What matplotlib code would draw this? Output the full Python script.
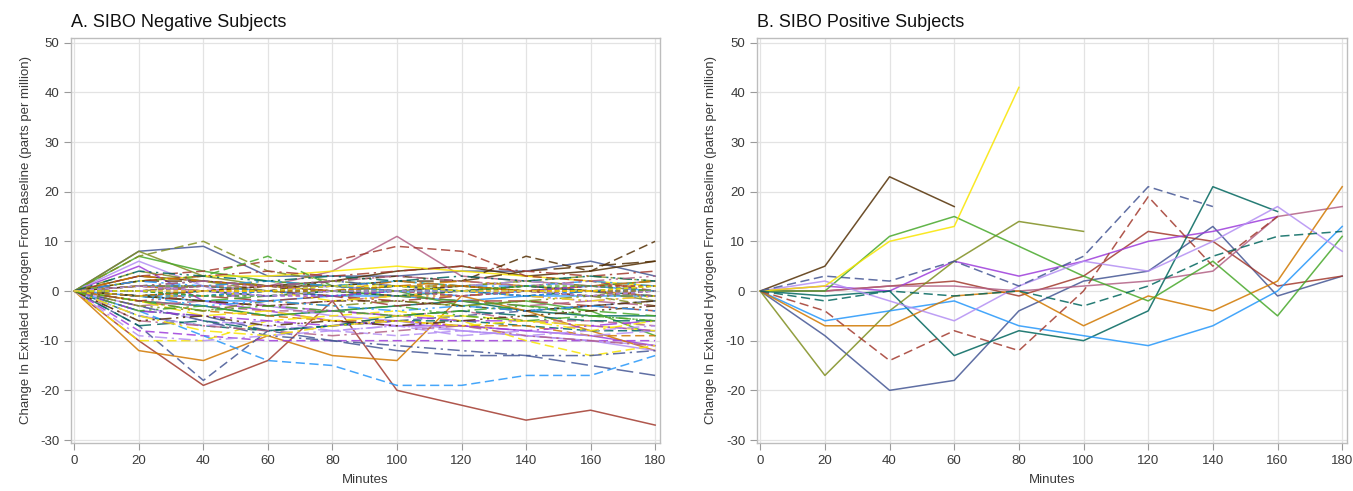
import matplotlib
matplotlib.use("Agg")
import matplotlib.pyplot as plt

minutes = [0, 20, 40, 60, 80, 100, 120, 140, 160, 180]

# SAS-like palette
colors = ["#445694", "#A23A2E", "#01665E", "#543005", "#9D3CDB", "#7F8E1F",
          "#2597FA", "#B26084", "#D17800", "#47A82A", "#B38EF3", "#F9E500"]

# ---------------- Panel A: SIBO negative (grouped by line pattern) --------
A_solid = [
    [0, 8, 9, 3, 3, 3, 4, 4, 6, 3],
    [0, -10, -19, -14, -2, -20, -23, -26, -24, -27],
    [0, -2, -3, -5, -4, -3, -2, -4, -5, -5],
    [0, 3, 2, 1, 2, 4, 5, 3, 4, 6],
    [0, 5, -2, -4, -6, -7, -7, -8, -9, -11],
    [0, 8, 3, 1, 0, -1, 0, 1, 0, -2],
    [0, -1, -2, -2, -1, -1, -2, -1, -1, -1],
    [0, 1, 0, 1, 4, 11, 3, 2, 1, 2],
    [0, -12, -14, -9, -13, -14, -1, -4, -8, -12],
    [0, 7, 4, 2, 1, 0, -3, -2, -4, -9],
    [0, 6, 1, -3, -5, -6, -8, -9, -10, -12],
    [0, 2, 3, 3, 4, 5, 4, 3, 2, 1],
]
A_dash = [
    [0, -7, -18, -8, -7, -6, -5, -4, -3, -2],
    [0, 3, 4, 6, 6, 9, 8, 3, 2, 0],
    [0, -5, -7, -8, -7, -6, -6, -7, -8, -8],
    [0, 1, 1, 0, 2, 3, 2, 7, 4, 10],
    [0, -8, -9, -10, -10, -10, -10, -10, -10, -10],
    [0, 7, 10, 4, 2, 1, 1, 0, -1, -3],
    [0, -4, -9, -14, -15, -19, -19, -17, -17, -13],
    [0, -2, -3, -4, -4, -5, -4, -6, -6, -7],
    [0, -2, -4, -5, -6, -6, -7, -7, -9, -9],
    [0, 2, 3, 7, 1, 2, 1, 0, 1, 2],
    [0, -3, -6, -7, -8, -9, -8, -9, -10, -11],
    [0, -10, -10, -6, -5, -4, -6, -10, -13, -11],
]
A_longdash = [
    [0, -4, -5, -8, -10, -12, -13, -13, -15, -17],
    [0, -1, -1, -2, -1, -3, -2, -2, -3, -4],
    [0, -7, -6, -8, -7, -5, -4, -5, -6, -6],
    [0, 2, 2, 1, 1, 2, 2, 4, 5, 6],
    [0, -1, -2, -3, -4, -5, -6, -6, -7, -6],
    [0, 4, 2, 0, -1, 0, 1, 2, 1, 0],
    [0, 1, 1, 0, -1, 0, -1, 0, 1, 0],
    [0, -3, -2, -3, -2, -1, -2, -3, -2, -3],
    [0, 1, 0, -1, 0, 1, 2, 1, 0, -1],
    [0, -1, -2, -1, 0, -1, -2, -3, -4, -5],
    [0, -5, -7, -6, -8, -7, -9, -8, -9, -8],
    [0, -2, -5, -4, -6, -5, -5, -6, -7, -8],
]
A_dashdot = [
    [0, -3, -6, -9, -10, -11, -12, -13, -13, -12],
    [0, 2, 3, 4, 3, 4, 5, 4, 3, 4],
    [0, -1, 0, -1, 0, 1, 0, -1, 0, -1],
    [0, -1, -2, -3, -2, -2, -3, -4, -3, -2],
    [0, -4, -5, -6, -7, -6, -7, -8, -7, -8],
    [0, 0, 1, 2, 1, 0, 1, 2, 3, 2],
    [0, 2, 1, 2, 1, 2, 1, 1, 2, 1],
    [0, -6, -7, -8, -9, -8, -7, -9, -10, -11],
    [0, 3, 2, 1, 0, 2, 1, 0, 1, 2],
    [0, -2, -4, -3, -4, -5, -4, -3, -5, -6],
    [0, -9, -10, -9, -8, -7, -8, -9, -8, -7],
    [0, -5, -8, -9, -7, -6, -7, -6, -8, -6],
]
A_dashdotdot = [
    [0, 1, 2, 1, 2, 1, 0, 1, 0, 1],
    [0, -2, -1, 0, -1, -2, -1, 0, -1, 0],
    [0, 4, 3, 2, 3, 2, 3, 2, 3, 2],
    [0, -6, -5, -7, -6, -7, -6, -5, -4, -3],
    [0, 0, -1, -1, 0, -1, 0, -1, -2, -1],
    [0, -3, -4, -2, -3, -2, -3, -2, -1, -1],
    [0, -1, -3, -2, -3, -4, -3, -4, -3, -4],
    [0, 1, 2, 1, 2, 3, 2, 1, 2, 3],
    [0, -1, 0, 1, 0, -1, -1, 0, 1, 1],
    [0, -4, -3, -5, -4, -3, -5, -6, -5, -6],
    [0, 0, 1, 0, 1, 0, 1, 2, 1, 0],
    [0, -1, -1, 0, -2, -1, 0, -1, -2, -1],
]
A_shortdash = [
    [0, 0, 1, 0, -1, 0, 0, -1, 0, 0],
    [0, 1, 0, 0, 1, 0, -1, 0, 1, 1],
    [0, 0, -1, 0, 0, -1, 0, 1, 0, 0],
    [0, -1, 0, 1, 0, 0, 1, 0, -1, 0],
    [0, 0, 0, -1, -1, 0, 0, 0, 1, 0],
    [0, 1, 1, 0, 0, 1, 0, 0, 0, 1],
    [0, -1, -1, 0, 1, 0, 0, -1, 0, 0],
    [0, 0, 1, 1, 0, 0, -1, 0, 0, -1],
    [0, -1, 0, 0, 0, 1, 1, 0, 0, 0],
    [0, 0, -1, -1, 0, 0, 0, 1, 1, 0],
    [0, 1, 0, -1, 0, 0, 0, 0, -1, 0],
    [0, 0, 0, 0, 1, 1, 0, 0, 0, 1],
]

# ---------------- Panel B: SIBO positive (None = missing) ------------------
B_slate = [0, -9, -20, -18, -4, 2, 4, 13, -1, 3]
B_red = [0, 0, 1, 2, -1, 3, 12, 10, 1, 3]
B_teal = [0, -1, 0, -13, -8, -10, -4, 21, 16, None]
B_brown = [0, 5, 23, 17, None, None, None, None, None, None]
B_purple = [0, 1, 0, 6, 3, 6, 10, 12, 15, None]
B_olive = [0, -17, -4, 6, 14, 12, None, None, None, None]
B_sky = [0, -6, -4, -2, -7, -9, -11, -7, 0, 13]
B_pink = [0, 0, 1, 1, 0, 1, 2, 4, 15, 17]
B_orange = [0, -7, -7, -1, 0, -7, -1, -4, 2, 21]
B_green = [0, 0, 11, 15, 9, 3, -2, 6, -5, 11]
B_lavender = [0, 2, -2, -6, 1, 6, 4, 10, 17, 8]
B_yellow = [0, 1, 10, 13, 41, None, None, None, None, None]
B_slate_dash = [0, 3, 2, 6, 1, 7, 21, 17, None, None]
B_red_dash = [0, -4, -14, -8, -12, 0, 19, 5, 15, None]
B_teal_dash = [0, -2, 0, -1, 0, -3, 1, 7, 11, 12]

styles = {
    "solid": "-",
    "dash": (0, (6, 3)),
    "shortdash": (0, (3, 2)),
    "longdash": (0, (11, 4)),
    "dashdot": (0, (8, 3, 1.5, 3)),
    "dashdotdot": (0, (8, 3, 1.5, 3, 1.5, 3)),
}

plt.rcParams["font.family"] = ["Liberation Sans", "DejaVu Sans"]
plt.rcParams["axes.unicode_minus"] = False

fig = plt.figure(figsize=(13.53, 4.91), dpi=100)
axA = fig.add_axes([0.0525, 0.0978, 0.4353, 0.8254])
axB = fig.add_axes([0.5595, 0.0978, 0.4361, 0.8254])


def style_axes(ax, title):
    ax.set_xlim(-1, 181.5)
    ax.set_ylim(-30.6, 51)
    ax.set_xticks(minutes)
    ax.set_yticks([-30, -20, -10, 0, 10, 20, 30, 40, 50])
    ax.grid(True, color="#e3e3e3", linewidth=0.9)
    ax.set_axisbelow(True)
    for s in ax.spines.values():
        s.set_color("#bdbdbd")
        s.set_linewidth(1.0)
    ax.tick_params(axis="both", colors="#9a9a9a", labelcolor="#3a3a3a",
                   labelsize=9.5, length=5, width=0.8)
    ax.set_xlabel("Minutes", fontsize=9.5, color="#3a3a3a", labelpad=5)
    ax.set_ylabel("Change In Exhaled Hydrogen From Baseline (parts per million)",
                  fontsize=9.5, color="#3a3a3a", labelpad=6)
    ax.set_title(title, loc="left", fontsize=13, color="#111111", pad=8)


groups = [(A_solid, "solid"), (A_dash, "dash"), (A_longdash, "longdash"),
          (A_dashdot, "dashdot"), (A_dashdotdot, "dashdotdot"),
          (A_shortdash, "shortdash")]
for data, st in groups:
    for i, vals in enumerate(data):
        axA.plot(minutes, vals, color=colors[i], linestyle=styles[st],
                 linewidth=1.1, alpha=0.85)

B_series = [
    (B_slate, 0, "solid"), (B_red, 1, "solid"), (B_teal, 2, "solid"),
    (B_brown, 3, "solid"), (B_purple, 4, "solid"), (B_olive, 5, "solid"),
    (B_sky, 6, "solid"), (B_pink, 7, "solid"), (B_orange, 8, "solid"),
    (B_green, 9, "solid"), (B_lavender, 10, "solid"), (B_yellow, 11, "solid"),
    (B_slate_dash, 0, "dash"), (B_red_dash, 1, "dash"), (B_teal_dash, 2, "dash"),
]
for vals, ci, st in B_series:
    xs = [m for m, v in zip(minutes, vals) if v is not None]
    ys = [v for v in vals if v is not None]
    axB.plot(xs, ys, color=colors[ci], linestyle=styles[st],
             linewidth=1.1, alpha=0.85)

style_axes(axA, "A. SIBO Negative Subjects")
style_axes(axB, "B. SIBO Positive Subjects")

fig.savefig("out.png", dpi=100)
